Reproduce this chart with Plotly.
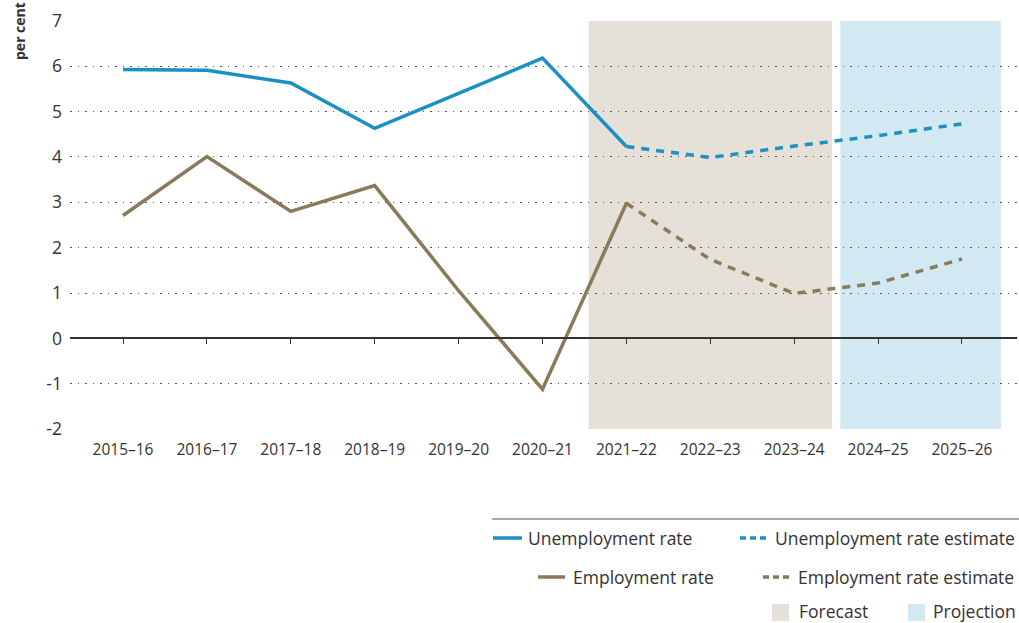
import plotly.graph_objects as go

# Financial years on the horizontal axis
years = ["2015–16", "2016–17", "2017–18", "2018–19", "2019–20", "2020–21",
         "2021–22", "2022–23", "2023–24", "2024–25", "2025–26"]

# Outturn (per cent)
unemployment_actual = [5.93, 5.91, 5.63, 4.63, 5.40, 6.18, 4.23]
employment_actual = [2.71, 4.01, 2.80, 3.37, 1.05, -1.12, 2.98]

# Estimates from 2021–22 onwards (per cent)
unemployment_estimate = [4.23, 3.99, 4.24, 4.47, 4.73]
employment_estimate = [2.98, 1.74, 0.99, 1.22, 1.75]

# Shaded periods
forecast_years = ["2021–22", "2022–23", "2023–24"]
projection_years = ["2024–25", "2025–26"]

y_ticks = [-2, -1, 0, 1, 2, 3, 4, 5, 6, 7]
y_tick_labels = ["-2", "-1", "0", "1", "2", "3", "4", "5", "6", "7"]

BLUE = "#1b90c2"
BROWN = "#8a7a5c"
FORECAST_FILL = "#e5e0d8"
PROJECTION_FILL = "#d2e9f3"
TEXT = "#333333"
FONT = "Open Sans"

idx = {y: i for i, y in enumerate(years)}
n_act = len(unemployment_actual)
x_act = list(range(n_act))
x_est = list(range(n_act - 1, n_act - 1 + len(unemployment_estimate)))

W, H = 1019, 623
M_L, M_R, M_T, M_B = 70, 2, 20, 193
PW, PH = W - M_L - M_R, H - M_T - M_B


def px_x(px):
    return (px - M_L) / PW


def px_y(py):
    return (H - M_B - py) / PH


fig = go.Figure()

fig.add_trace(go.Scatter(x=x_act, y=unemployment_actual, mode="lines",
                         line=dict(color=BLUE, width=3.5), showlegend=False))
fig.add_trace(go.Scatter(x=x_act, y=employment_actual, mode="lines",
                         line=dict(color=BROWN, width=3.5), showlegend=False))
fig.add_trace(go.Scatter(x=x_est, y=unemployment_estimate, mode="lines", xaxis="x2",
                         line=dict(color=BLUE, width=3.5, dash="8px,7px"), showlegend=False))
fig.add_trace(go.Scatter(x=x_est, y=employment_estimate, mode="lines", xaxis="x2",
                         line=dict(color=BROWN, width=3.5, dash="8px,7px"), showlegend=False))

# Forecast / projection bands
shapes = []
for yrs, fill, pad_r in [(forecast_years, FORECAST_FILL, 0.45),
                         (projection_years, PROJECTION_FILL, 0.465)]:
    shapes.append(dict(type="rect", xref="x", yref="y", layer="below",
                       x0=idx[yrs[0]] - 0.45, x1=idx[yrs[-1]] + pad_r,
                       y0=min(y_ticks), y1=max(y_ticks),
                       fillcolor=fill, line=dict(width=0)))

# Legend built from shapes and annotations
shapes.append(dict(type="line", xref="paper", yref="paper",
                   x0=px_x(492), x1=px_x(1019), y0=px_y(519), y1=px_y(519),
                   line=dict(color="#8c8c8c", width=1.5)))
legend_lines = [
    (493, 522, 538, BLUE, "solid"),
    (740, 769, 538, BLUE, "6px,4px"),
    (538, 565, 577, BROWN, "solid"),
    (763, 792, 577, BROWN, "6px,4px"),
]
for x0, x1, yy, col, dash in legend_lines:
    shapes.append(dict(type="line", xref="paper", yref="paper",
                       x0=px_x(x0), x1=px_x(x1), y0=px_y(yy), y1=px_y(yy),
                       line=dict(color=col, width=3.5, dash=dash)))
for x0, x1, col in [(772, 789, FORECAST_FILL), (908, 925, PROJECTION_FILL)]:
    shapes.append(dict(type="rect", xref="paper", yref="paper",
                       x0=px_x(x0), x1=px_x(x1), y0=px_y(621), y1=px_y(604),
                       fillcolor=col, line=dict(width=0)))

annotations = [
    dict(text="<b>per cent</b>", x=px_x(19), y=px_y(31), xref="paper", yref="paper",
         xanchor="center", yanchor="middle",
         textangle=-90, showarrow=False, font=dict(family=FONT, size=14, color=TEXT)),
]
for txt, xp, yp in [("Unemployment rate", 526, 538),
                    ("Unemployment rate estimate", 773, 538),
                    ("Employment rate", 571, 577),
                    ("Employment rate estimate", 796, 577),
                    ("Forecast", 797, 611),
                    ("Projection", 931, 611)]:
    annotations.append(dict(text=txt, x=px_x(xp), y=px_y(yp), xref="paper", yref="paper",
                            xanchor="left", yanchor="middle", showarrow=False,
                            font=dict(family=FONT, size=17.5, color=TEXT)))

x_range = [-0.632, len(years) - 1 + 0.656]
y_range = [min(y_ticks) - 0.02, max(y_ticks) + 0.02]

fig.update_layout(
    width=W, height=H,
    margin=dict(l=M_L, r=M_R, t=M_T, b=M_B),
    paper_bgcolor="white", plot_bgcolor="white",
    font=dict(family=FONT, size=15, color=TEXT),
    showlegend=False,
    shapes=shapes,
    annotations=annotations,
    xaxis=dict(range=x_range, tickvals=list(range(len(years))), ticktext=years,
               showgrid=False, zeroline=False, showline=False, ticks="",
               ticklabelstandoff=8, tickfont=dict(family=FONT, size=15.5, color=TEXT)),
    xaxis2=dict(range=x_range, overlaying="x", anchor="free",
                position=(0 - y_range[0]) / (y_range[1] - y_range[0]),
                tickvals=list(range(len(years))), showticklabels=False,
                showgrid=False, zeroline=False, showline=True,
                linecolor="#333333", linewidth=1.5,
                ticks="outside", ticklen=5, tickwidth=1.2, tickcolor="#333333"),
    yaxis=dict(range=y_range, tickvals=y_ticks, ticktext=y_tick_labels, showgrid=True,
               gridcolor="#555555", gridwidth=1, griddash="1.5px,6px",
               zeroline=False, showline=False, ticks="",
               ticklabelstandoff=7, tickfont=dict(family=FONT, size=17.5, color=TEXT)),
)

fig.write_html("out.html")
